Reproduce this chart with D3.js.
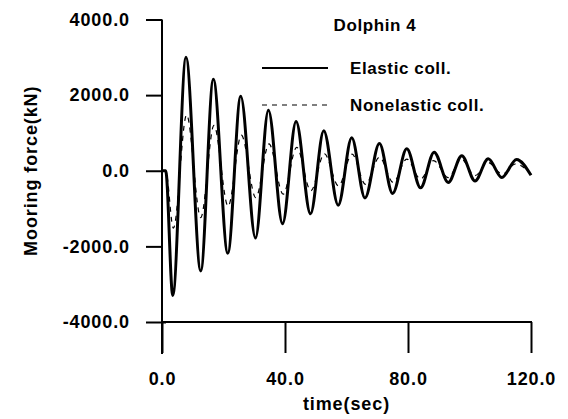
<!DOCTYPE html>
<html>
<head>
<meta charset="utf-8">
<script src="https://cdnjs.cloudflare.com/ajax/libs/d3/7.8.5/d3.min.js"></script>
<style>
  body { margin: 0; background: #fff; }
  text { font-family: "Liberation Sans", Arial, sans-serif; font-weight: bold; fill: #000; }
</style>
</head>
<body>
<div class="chart"></div>
<script>
       // extrema (time in sec, force in kN)
       var timeElastic  = [0, 1.2, 3.5, 7.8, 12.6, 16.7, 21.4, 25.6, 30.4, 34.6, 39.2, 43.6, 48.3, 52.6, 57.3,
                           61.7, 66.0, 70.7, 75.0, 79.6, 84.1, 88.5, 93.1, 97.5, 101.8, 106.1, 110.5, 115.3, 120];
       var forceElastic = [0, 0, -3300, 3000, -2650, 2420, -2180, 1970, -1780, 1600, -1400, 1300, -1140, 1060, -910,
                           870, -720, 720, -600, 580, -450, 490, -310, 400, -270, 320, -180, 300, -120];

       var timeNonelastic  = [0, 1.2, 3.7, 8.0, 12.6, 16.9, 21.5, 25.8, 30.5, 34.8, 39.4, 43.8, 48.4, 52.8, 57.4,
                              61.8, 66.2, 70.7, 75.2, 79.6, 84.1, 88.3, 93.1, 97.3, 101.8, 106.0, 110.7, 115.0, 120];
       var forceNonelastic = [0, 0, -1520, 1480, -1240, 1200, -940, 940, -710, 710, -620, 620, -530, 450, -400,
                              440, -360, 360, -310, 310, -220, 270, -180, 310, -130, 220, -90, 180, -90];

       var xTicks = [0, 40, 80, 120];
       var yTicks = [-4000, -2000, 0, 2000, 4000];

       var seriesNames = ["Elastic coll.", "Nonelastic coll."];

       var width = 568,
           height = 419;

       var x = d3.scaleLinear()
                 .domain([0, 120])
                 .range([162, 531]);

       var y = d3.scaleLinear()
                 .domain([-4000, 4000])
                 .range([322, 19.5]);

       var svg = d3.select(".chart").append("svg")
                   .attr("width", width)
                   .attr("height", height);

       var fmt = function(d) { return d.toFixed(1); };

       var yAxis = d3.axisLeft(y)
                     .tickValues(yTicks)
                     .tickSize(16)
                     .tickPadding(16)
                     .tickFormat(fmt);

       var xAxis = d3.axisBottom(x)
                     .tickValues(xTicks)
                     .tickSize(31)
                     .tickPadding(19)
                     .tickFormat(fmt);

       var gy = svg.append("g")
          .attr("class", "y axis")
          .attr("transform", "translate(" + x(0) + ",0)")
          .call(yAxis);

       var gx = svg.append("g")
          .attr("class", "x axis")
          .attr("transform", "translate(0," + y(-4000) + ")")
          .call(xAxis);

       svg.selectAll(".axis .domain").remove();
       svg.selectAll(".axis line").attr("stroke", "#000").attr("stroke-width", 2);
       svg.selectAll(".axis text")
          .attr("fill", "#000")
          .style("font-size", "18px")
          .style("letter-spacing", "0.9px");

       // the -4000 tick crosses the y axis
       gy.selectAll(".tick").filter(function(d) { return d === -4000; })
         .select("line").attr("x2", 4).attr("x1", -16);

       // axis lines
       svg.append("line")
          .attr("x1", x(0)).attr("x2", x(0))
          .attr("y1", y(4000)).attr("y2", y(-4000) + 32)
          .attr("stroke", "#000").attr("stroke-width", 2);

       svg.append("line")
          .attr("x1", x(0)).attr("x2", x(120) + 1)
          .attr("y1", y(-4000)).attr("y2", y(-4000))
          .attr("stroke", "#000").attr("stroke-width", 2);

       svg.append("text")
          .attr("transform", "translate(37," + y(0) + ") rotate(-90)")
          .attr("text-anchor", "middle")
          .style("font-size", "18px")
          .style("letter-spacing", "0.9px")
          .text("Mooring force(kN)");

       svg.append("text")
          .attr("x", (x(0) + x(120)) / 2)
          .attr("y", 410)
          .attr("text-anchor", "middle")
          .style("font-size", "18px")
          .style("letter-spacing", "0.9px")
          .text("time(sec)");

       var line = d3.line()
                    .curve(d3.curveMonotoneX)
                    .x(function(d) { return x(d.t); })
                    .y(function(d) { return y(d.f); });

       var series = [
         { name: seriesNames[0], values: timeElastic.map(function(t, i) { return { t: t, f: forceElastic[i] }; }),
           width: 3, dash: null },
         { name: seriesNames[1], values: timeNonelastic.map(function(t, i) { return { t: t, f: forceNonelastic[i] }; }),
           width: 1.2, dash: "5,5" }
       ];

       svg.selectAll(".series")
          .data(series.slice().reverse())
          .enter().append("path")
          .attr("class", "series")
          .attr("d", function(d) { return line(d.values); })
          .attr("fill", "none")
          .attr("stroke", "#000")
          .attr("stroke-width", function(d) { return d.width; })
          .attr("stroke-dasharray", function(d) { return d.dash; });

       // legend
       svg.append("text")
          .attr("x", 375)
          .attr("y", 31)
          .attr("text-anchor", "middle")
          .style("font-size", "17px")
          .style("letter-spacing", "0.6px")
          .text("Dolphin 4");

       var leg = svg.selectAll(".legend")
                    .data(series)
                    .enter().append("g")
                    .attr("class", "legend")
                    .attr("transform", function(d, i) { return "translate(262," + (68 + i * 37) + ")"; });

       leg.append("line")
          .attr("x1", 0).attr("x2", 66)
          .attr("stroke", "#000")
          .attr("stroke-width", function(d) { return d.width === 3 ? 2 : 1.2; })
          .attr("stroke-dasharray", function(d) { return d.dash; });

       leg.append("text")
          .attr("x", 88)
          .attr("dy", "0.36em")
          .style("font-size", "17px")
          .style("letter-spacing", "0.6px")
          .text(function(d) { return d.name; });
</script>
</body>
</html>
